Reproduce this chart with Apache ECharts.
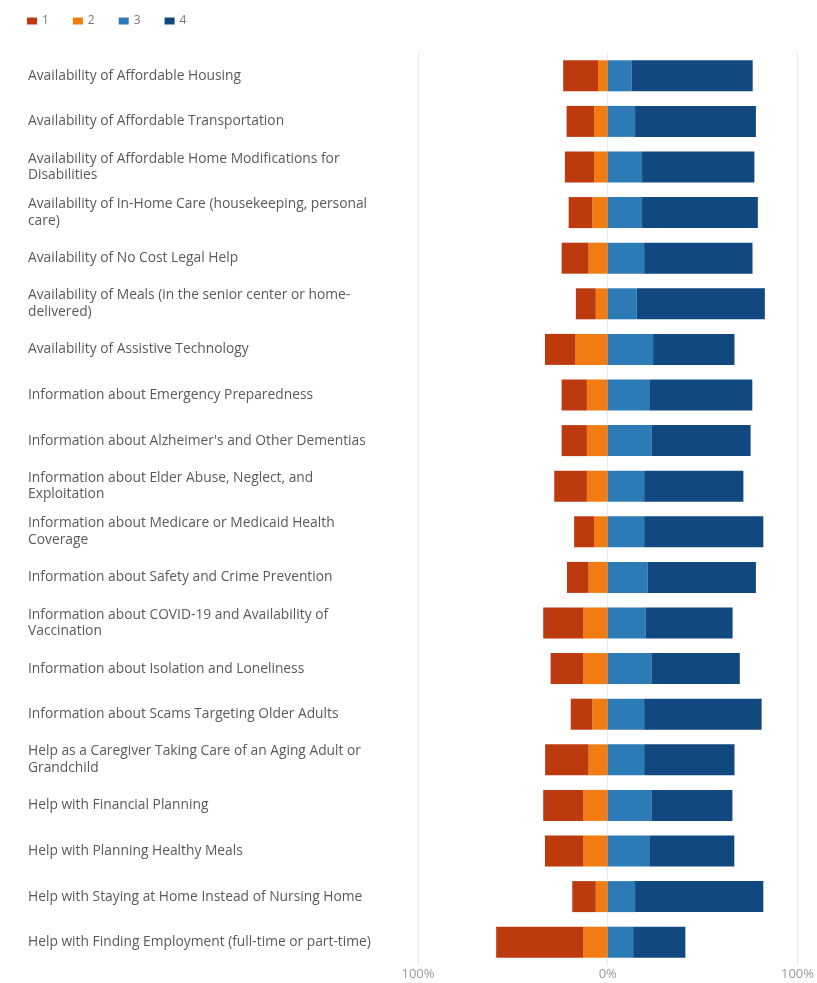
<!DOCTYPE html>
<html>
<head>
<meta charset="utf-8">
<title>Service needs</title>
<script src="https://cdn.jsdelivr.net/npm/echarts@6/dist/echarts.min.js"></script>
<style>
  html, body { margin: 0; padding: 0; background: #fff; overflow: hidden; }
  #chart { width: 817px; height: 983px; }
</style>
</head>
<body>
<div id="chart"></div>
<script>
// Topics, listed top to bottom
const categories = [
  "Availability of Affordable Housing",
  "Availability of Affordable Transportation",
  "Availability of Affordable Home Modifications for Disabilities",
  "Availability of In-Home Care (housekeeping, personal care)",
  "Availability of No Cost Legal Help",
  "Availability of Meals (in the senior center or home-delivered)",
  "Availability of Assistive Technology",
  "Information about Emergency Preparedness",
  "Information about Alzheimer's and Other Dementias",
  "Information about Elder Abuse, Neglect, and Exploitation",
  "Information about Medicare or Medicaid Health Coverage",
  "Information about Safety and Crime Prevention",
  "Information about COVID-19 and Availability of Vaccination",
  "Information about Isolation and Loneliness",
  "Information about Scams Targeting Older Adults",
  "Help as a Caregiver Taking Care of an Aging Adult or Grandchild",
  "Help with Financial Planning",
  "Help with Planning Healthy Meals",
  "Help with Staying at Home Instead of Nursing Home",
  "Help with Finding Employment (full-time or part-time)"
];

// Share of responses (%) for each rating level
const rating1 = [18.4, 14.5, 15.4, 12.4, 14.2, 10.5, 16.1, 13.3, 13.3, 17.2, 10.5, 11.4, 21.0, 17.1, 11.3, 22.9, 21.0, 20.1, 12.4, 45.8];
const rating2 = [5.1, 7.2, 7.2, 8.2, 10.1, 6.3, 17.0, 11.0, 11.0, 11.0, 7.2, 10.1, 13.0, 13.0, 8.2, 10.1, 13.0, 13.0, 6.3, 13.0];
const rating3 = [12.5, 14.4, 18.1, 18.1, 19.2, 15.3, 23.9, 21.9, 23.0, 19.2, 19.2, 21.1, 20.1, 23.0, 19.2, 19.2, 23.0, 21.9, 14.4, 13.4];
const rating4 = [63.9, 63.7, 59.2, 61.0, 57.1, 67.5, 42.9, 54.3, 52.3, 52.3, 62.8, 57.0, 45.7, 46.6, 61.9, 47.6, 42.7, 44.8, 67.6, 27.5];

const levelNames = ["1", "2", "3", "4"];
const levelColors = ["#BD3A0F", "#F07C12", "#2C7BB6", "#10487F"];
const axisTicks = [-100, 0, 100];

const fontSize = 13.8;
const labelFont = fontSize + 'px "Open Sans"';
const labelWidth = 350;

// Greedy word wrap that may also break after a hyphen
const measureCtx = document.createElement("canvas").getContext("2d");
function wrapLabel(text) {
  measureCtx.font = labelFont;
  const pieces = text.match(/[^\s-]+-?|\s+/g) || [text];
  const lines = [];
  let line = "";
  for (const p of pieces) {
    const trial = line + p;
    if (line && measureCtx.measureText(trial.trimEnd()).width > labelWidth && !/^\s+$/.test(p)) {
      lines.push(line.trimEnd());
      line = p.trimStart();
    } else {
      line = trial;
    }
  }
  if (line.trim()) lines.push(line.trimEnd());
  return lines.join("\n");
}

const chart = echarts.init(document.getElementById("chart"));

function barSeries(name, values, sign, color) {
  return {
    name: name,
    type: "bar",
    stack: "total",
    barWidth: "68%",
    itemStyle: { color: color },
    emphasis: { disabled: true },
    data: values.map(v => sign * v)
  };
}

chart.setOption({
  animation: false,
  textStyle: { fontFamily: "Open Sans" },
  legend: {
    data: levelNames,
    left: 27,
    top: 15,
    padding: 0,
    icon: "rect",
    itemWidth: 10,
    itemHeight: 7,
    itemGap: 24,
    textStyle: { color: "#777", fontSize: 12, fontFamily: "Open Sans" }
  },
  grid: { left: 418, right: 17, top: 53, bottom: 18, containLabel: false },
  xAxis: {
    type: "value",
    min: axisTicks[0],
    max: axisTicks[axisTicks.length - 1],
    interval: 100,
    axisLine: { show: false },
    axisTick: { show: false },
    splitLine: { show: true, lineStyle: { color: "#e9e9e9", width: 1 } },
    axisLabel: {
      color: "#9a9a9a",
      fontSize: 13,
      margin: 3,
      formatter: v => Math.abs(v) + "%"
    }
  },
  yAxis: {
    type: "category",
    inverse: true,
    data: categories,
    axisLine: { show: false },
    axisTick: { show: false },
    splitLine: { show: false },
    axisLabel: {
      align: "left",
      margin: 390,
      color: "#5a5a5a",
      fontSize: fontSize,
      lineHeight: 16.5,
      fontFamily: "Open Sans",
      interval: 0,
      formatter: wrapLabel
    }
  },
  series: [
    barSeries(levelNames[1], rating2, -1, levelColors[1]),
    barSeries(levelNames[0], rating1, -1, levelColors[0]),
    barSeries(levelNames[2], rating3, 1, levelColors[2]),
    barSeries(levelNames[3], rating4, 1, levelColors[3])
  ],
  color: levelColors
});
</script>
</body>
</html>
